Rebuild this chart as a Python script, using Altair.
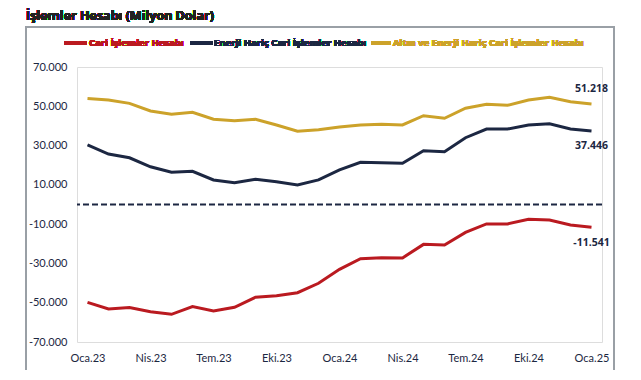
import altair as alt
import pandas as pd

months = ["Oca.23", "Şub.23", "Mar.23", "Nis.23", "May.23", "Haz.23", "Tem.23", "Ağu.23",
          "Eyl.23", "Eki.23", "Kas.23", "Ara.23", "Oca.24", "Şub.24", "Mar.24", "Nis.24",
          "May.24", "Haz.24", "Tem.24", "Ağu.24", "Eyl.24", "Eki.24", "Kas.24", "Ara.24", "Oca.25"]

cari = [-49800, -53200, -52500, -54600, -55900, -52000, -54200, -52300, -47200, -46400,
        -44900, -40100, -33000, -27600, -27100, -27200, -20300, -20600, -14200, -9900,
        -9900, -7500, -7900, -10400, -11541]
enerji = [30300, 25700, 23800, 19200, 16400, 16900, 12500, 11100, 12800, 11600,
          9900, 12500, 17600, 21500, 21300, 21000, 27400, 26900, 34000, 38400,
          38400, 40500, 41100, 38400, 37446]
altin = [54000, 53200, 51500, 47600, 45900, 46900, 43400, 42700, 43400, 40500,
         37300, 38100, 39400, 40500, 40800, 40500, 45200, 43900, 49000, 51000,
         50500, 53200, 54600, 52300, 51218]

series_names = ["Cari İşlemler Hesabı", "Enerji Hariç Cari İşlemler Hesabı",
                "Altın ve Enerji Hariç Cari İşlemler Hesabı"]
series_colors = ["#BA1A20", "#1C2742", "#CCA22A"]
y_ticks = [-70000, -50000, -30000, -10000, 10000, 30000, 50000, 70000]
x_ticks = ["Oca.23", "Nis.23", "Tem.23", "Eki.23", "Oca.24", "Nis.24", "Tem.24", "Eki.24", "Oca.25"]
zero_line = [0]
title_text = "İşlemler Hesabı (Milyon Dolar)"

rows = []
for name, vals in zip(series_names, [cari, enerji, altin]):
    for m, v in zip(months, vals):
        rows.append({"month": m, "series": name, "value": v})
df = pd.DataFrame(rows)

W, H = 525, 275
FONT = "Lato"
BFONT = "Open Sans"
NAVY = "#1C2742"
fmt_expr = "replace(replace(format(datum.value, ','), ',', '.'), '\u2212', '-')"

x_axis = alt.Axis(values=x_ticks, title=None, labelAngle=0, domain=False, ticks=False,
                  tickSize=0, grid=False, labelPadding=10, labelFontSize=11,
                  labelFont=FONT, labelColor=NAVY, labelOverlap=False)
y_axis = alt.Axis(values=y_ticks, title=None, domain=False, ticks=False, tickSize=0,
                  grid=False, labelPadding=10, labelFontSize=11, labelFont=FONT,
                  labelColor=NAVY, labelExpr=fmt_expr, labelOverlap=False)
x_scale = alt.Scale(type="point", padding=0.5)
y_scale = alt.Scale(domain=[-70000, 70000], nice=False, zero=False)

x_enc = alt.X("month:N", sort=months, scale=x_scale, axis=x_axis)
y_enc = alt.Y("value:Q", scale=y_scale, axis=y_axis)

base = alt.Chart(df)

lines = base.mark_line(strokeWidth=3).encode(
    x=x_enc, y=y_enc,
    color=alt.Color("series:N", scale=alt.Scale(domain=series_names, range=series_colors), legend=None),
)

zero = alt.Chart(pd.DataFrame({"value": zero_line})).mark_rule(
    color=NAVY, strokeWidth=2, strokeDash=[6, 3]).encode(y=y_enc)

end = base.transform_filter(alt.datum.month == "Oca.25").transform_calculate(lab=fmt_expr)
dys = {series_names[0]: 16, series_names[1]: 15, series_names[2]: -15}
end_labels = []
for name in series_names:
    end_labels.append(
        end.transform_filter(alt.datum.series == name).mark_text(
            dy=dys[name], fontWeight="bold", fontSize=10.5, font=BFONT, color=NAVY, align="center"
        ).encode(x=x_enc, y=y_enc, text="lab:N")
    )

frame = alt.Chart(df).mark_rect(fill=None, stroke="#9AA0A6", strokeWidth=1.2).encode(
    x=alt.value(-51), x2=alt.value(537), y=alt.value(-40), y2=alt.value(305)
)

title = alt.Chart(df).mark_text(text=title_text, align="left", baseline="alphabetic", fontSize=12.5,
                                fontWeight="bold", font=BFONT, color="#222222").encode(
    x=alt.value(-51), y=alt.value(-47))

legend_x = [(-13, 10, 12), (113, 136, 137), (294, 314, 316)]
legend_layers = []
for (x1, x2, tx), name, col in zip(legend_x, series_names, series_colors):
    legend_layers.append(alt.Chart(df).mark_rule(color=col, strokeWidth=3).encode(
        x=alt.value(x1), x2=alt.value(x2), y=alt.value(-24)))
    legend_layers.append(alt.Chart(df).mark_text(text=name, align="left", baseline="middle",
                                                 fontSize=9.5, fontWeight="bold", font=BFONT,
                                                 color=col).encode(
        x=alt.value(tx), y=alt.value(-24)))

chart = alt.layer(frame, zero, lines, *end_labels, title, *legend_layers).properties(
    width=W, height=H,
    autosize=alt.AutoSizeParams(type="none"),
    padding={"left": 69, "top": 59, "right": 30, "bottom": 28},
).configure_view(stroke=None).configure(background="white")

chart.save("out.html", embed_options={"renderer": "svg", "actions": False})
